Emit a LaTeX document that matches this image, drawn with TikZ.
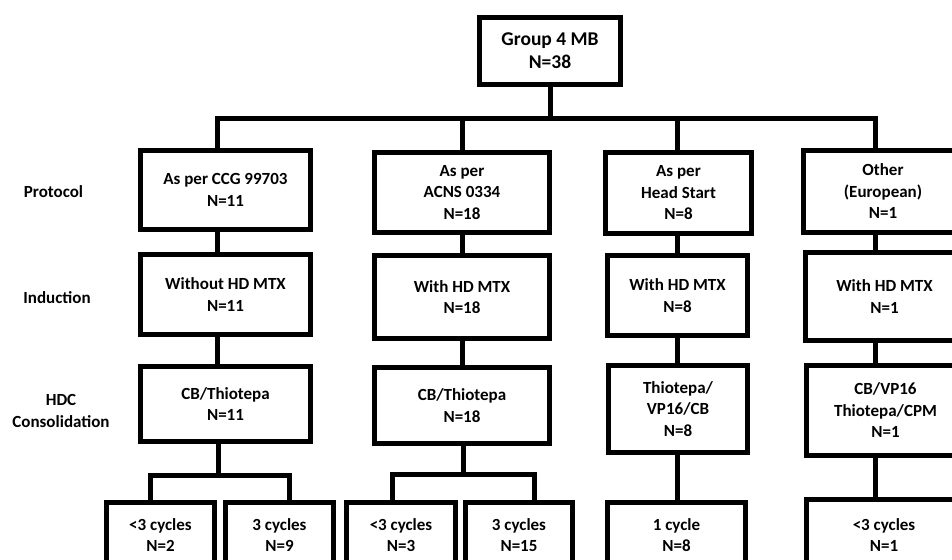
\documentclass[tikz,border=0pt]{standalone}
\usepackage{fontspec}
\setmainfont{Carlito}
\begin{document}
\begin{tikzpicture}[x=1pt,y=-1pt,
  box/.style={draw, line width=5pt, align=center, inner sep=0pt,
    font=\fontsize{17}{21.5}\selectfont\bfseries},
  topbox/.style={box, font=\fontsize{19.5}{23.3}\selectfont\bfseries},
  lbl/.style={align=center, inner sep=0pt, font=\fontsize{17}{22}\selectfont\bfseries},
  conn/.style={line width=5pt}]
\useasboundingbox (0,0) rectangle (952,559);
\clip (0,0) rectangle (952,559);
% x positions of connector columns
\coordinate (c1) at (217.5,0);
\coordinate (c2) at (462,0);
\coordinate (c3) at (677,0);
\coordinate (c4) at (875,0);
% top
\node[topbox, minimum width=141pt, minimum height=67pt] (top) at (550,51) {Group 4 MB\\N=38};
% protocol row
\node[box, minimum width=170pt, minimum height=79pt] (P1) at (225.5,190) {As per CCG 99703\\N=11};
\node[box, minimum width=175pt, minimum height=80pt] (P2) at (462,192.5) {As per\\ACNS 0334\\N=18};
\node[box, minimum width=146pt, minimum height=81pt] (P3) at (678.5,193) {As per\\Head Start\\N=8};
\node[box, minimum width=159pt, minimum height=82pt] (P4) at (883,191.5) {Other\\(European)\\N=1};
% induction row
\node[box, minimum width=170pt, minimum height=80.5pt] (I1) at (225.5,294.5) {Without HD MTX\\N=11};
\node[box, minimum width=175pt, minimum height=83pt] (I2) at (462,297) {With HD MTX\\N=18};
\node[box, minimum width=140pt, minimum height=80.5pt] (I3) at (677.5,295.5) {With HD MTX\\N=8};
\node[box, minimum width=158pt, minimum height=88pt] (I4) at (884.5,296.5) {With HD MTX\\N=1};
% HDC row
\node[box, minimum width=170pt, minimum height=75pt] (H1) at (225.5,404) {CB/Thiotepa\\N=11};
\node[box, minimum width=175pt, minimum height=76pt] (H2) at (462,405.5) {CB/Thiotepa\\N=18};
\node[box, minimum width=139pt, minimum height=87pt] (H3) at (678,409) {Thiotepa/\\VP16/CB\\N=8};
\node[box, minimum width=158pt, minimum height=90pt] (H4) at (885.5,410.5) {CB/VP16\\Thiotepa/CPM\\N=1};
% cycles row
\node[box, minimum width=108pt, minimum height=65pt] (B1a) at (160.5,535) {<3 cycles\\N=2};
\node[box, minimum width=108pt, minimum height=65pt] (B1b) at (279.5,535) {3 cycles\\N=9};
\node[box, minimum width=109pt, minimum height=65pt] (B2a) at (401,535) {<3 cycles\\N=3};
\node[box, minimum width=107pt, minimum height=65pt] (B2b) at (519,535) {3 cycles\\N=15};
\node[box, minimum width=138pt, minimum height=65pt] (B3) at (676.5,535) {1 cycle\\N=8};
\node[box, minimum width=155pt, minimum height=71pt] (B4) at (884,535) {<3 cycles\\N=1};
% row labels
\node[lbl] (lp) at (53.5,192) {Protocol};
\node[lbl] (li) at (57,298) {Induction};
\node[lbl] (lh) at (61,411) {HDC\\Consolidation};
% bus from top
\coordinate (bl) at (217.5,119);
\coordinate (br) at (875,119);
\draw[conn] (top.south) -- (top.south |- bl);
\draw[conn] (P1.north -| c1) -- (bl) -- (br) -- (P4.north -| c4);
\draw[conn] (P2.north -| c2) -- (c2 |- bl);
\draw[conn] (P3.north -| c3) -- (c3 |- bl);
% protocol -> induction
\draw[conn] (P1.south -| c1) -- (I1.north -| c1);
\draw[conn] (P2.south -| c2) -- (I2.north -| c2);
\draw[conn] (P3.south -| c3) -- (I3.north -| c3);
\draw[conn] (P4.south -| c4) -- (I4.north -| c4);
% induction -> HDC
\draw[conn] (I1.south -| c1) -- (H1.north -| c1);
\draw[conn] (I2.south -| c2) -- (H2.north -| c2);
\draw[conn] (I3.south -| c3) -- (H3.north -| c3);
\draw[conn] (I4.south -| c4) -- (H4.north -| c4);
% HDC -> cycles
\coordinate (s1) at (218,475);
\coordinate (s1l) at (150,475);
\coordinate (s1r) at (289,475);
\draw[conn] (H1.south -| s1) -- (s1);
\draw[conn] (B1a.north -| s1l) -- (s1l) -- (s1r) -- (B1b.north -| s1r);
\coordinate (s2) at (463,474.5);
\coordinate (s2l) at (392.5,474.5);
\coordinate (s2r) at (534,474.5);
\draw[conn] (H2.south -| s2) -- (s2);
\draw[conn] (B2a.north -| s2l) -- (s2l) -- (s2r) -- (B2b.north -| s2r);
\draw[conn] (H3.south -| c3) -- (B3.north -| c3);
\draw[conn] (H4.south -| c4) -- (B4.north -| c4);
\end{tikzpicture}
\end{document}
